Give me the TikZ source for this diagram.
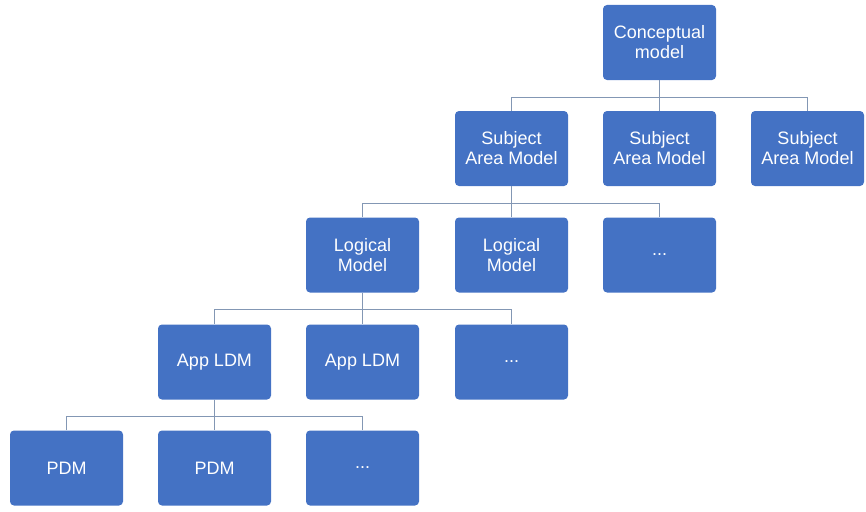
\documentclass[tikz,border=0pt]{standalone}
\usepackage{fontspec}
\setmainfont{Liberation Sans}
\begin{document}
\begin{tikzpicture}[x=1pt,y=-1pt,
  box/.style={draw=none, fill=boxblue, rounded corners=4pt, minimum width=113pt,
    minimum height=75pt, inner sep=0pt, text=white, align=center,
    font=\fontsize{18}{20}\selectfont},
  link/.style={draw=linkgray, line width=1.2pt}]
\definecolor{boxblue}{HTML}{4472C4}
\definecolor{linkgray}{HTML}{8397B4}
\useasboundingbox (0,0) rectangle (866,511);

% level 1
\node[box] (cm) at (659.5,42.5) {Conceptual\\model};
% level 2
\node[box] (sa1) at (511.5,148.5) {Subject\\Area Model};
\node[box] (sa2) at (659.5,148.5) {Subject\\Area Model};
\node[box] (sa3) at (807.5,148.5) {Subject\\Area Model};
% level 3
\node[box] (lm1) at (362.5,255) {Logical\\Model};
\node[box] (lm2) at (511.5,255) {Logical\\Model};
\node[box] (lm3) at (659.5,255) {...};
% level 4
\node[box] (app1) at (214.5,362) {App LDM};
\node[box] (app2) at (362.5,362) {App LDM};
\node[box] (app3) at (511.5,362) {...};
% level 5
\node[box] (pdm1) at (66.5,468) {PDM};
\node[box] (pdm2) at (214.5,468) {PDM};
\node[box] (pdm3) at (362.5,468) {...};

% connectors: down from parent, along a bar, down into each child
\foreach \p/\c in {cm/sa1, cm/sa2, cm/sa3,
                   sa1/lm1, sa1/lm2, sa1/lm3,
                   lm1/app1, lm1/app2, lm1/app3,
                   app1/pdm1, app1/pdm2, app1/pdm3}
  \draw[link] (\p.south) -- ++(0,17) -| (\c.north);
\end{tikzpicture}
\end{document}
